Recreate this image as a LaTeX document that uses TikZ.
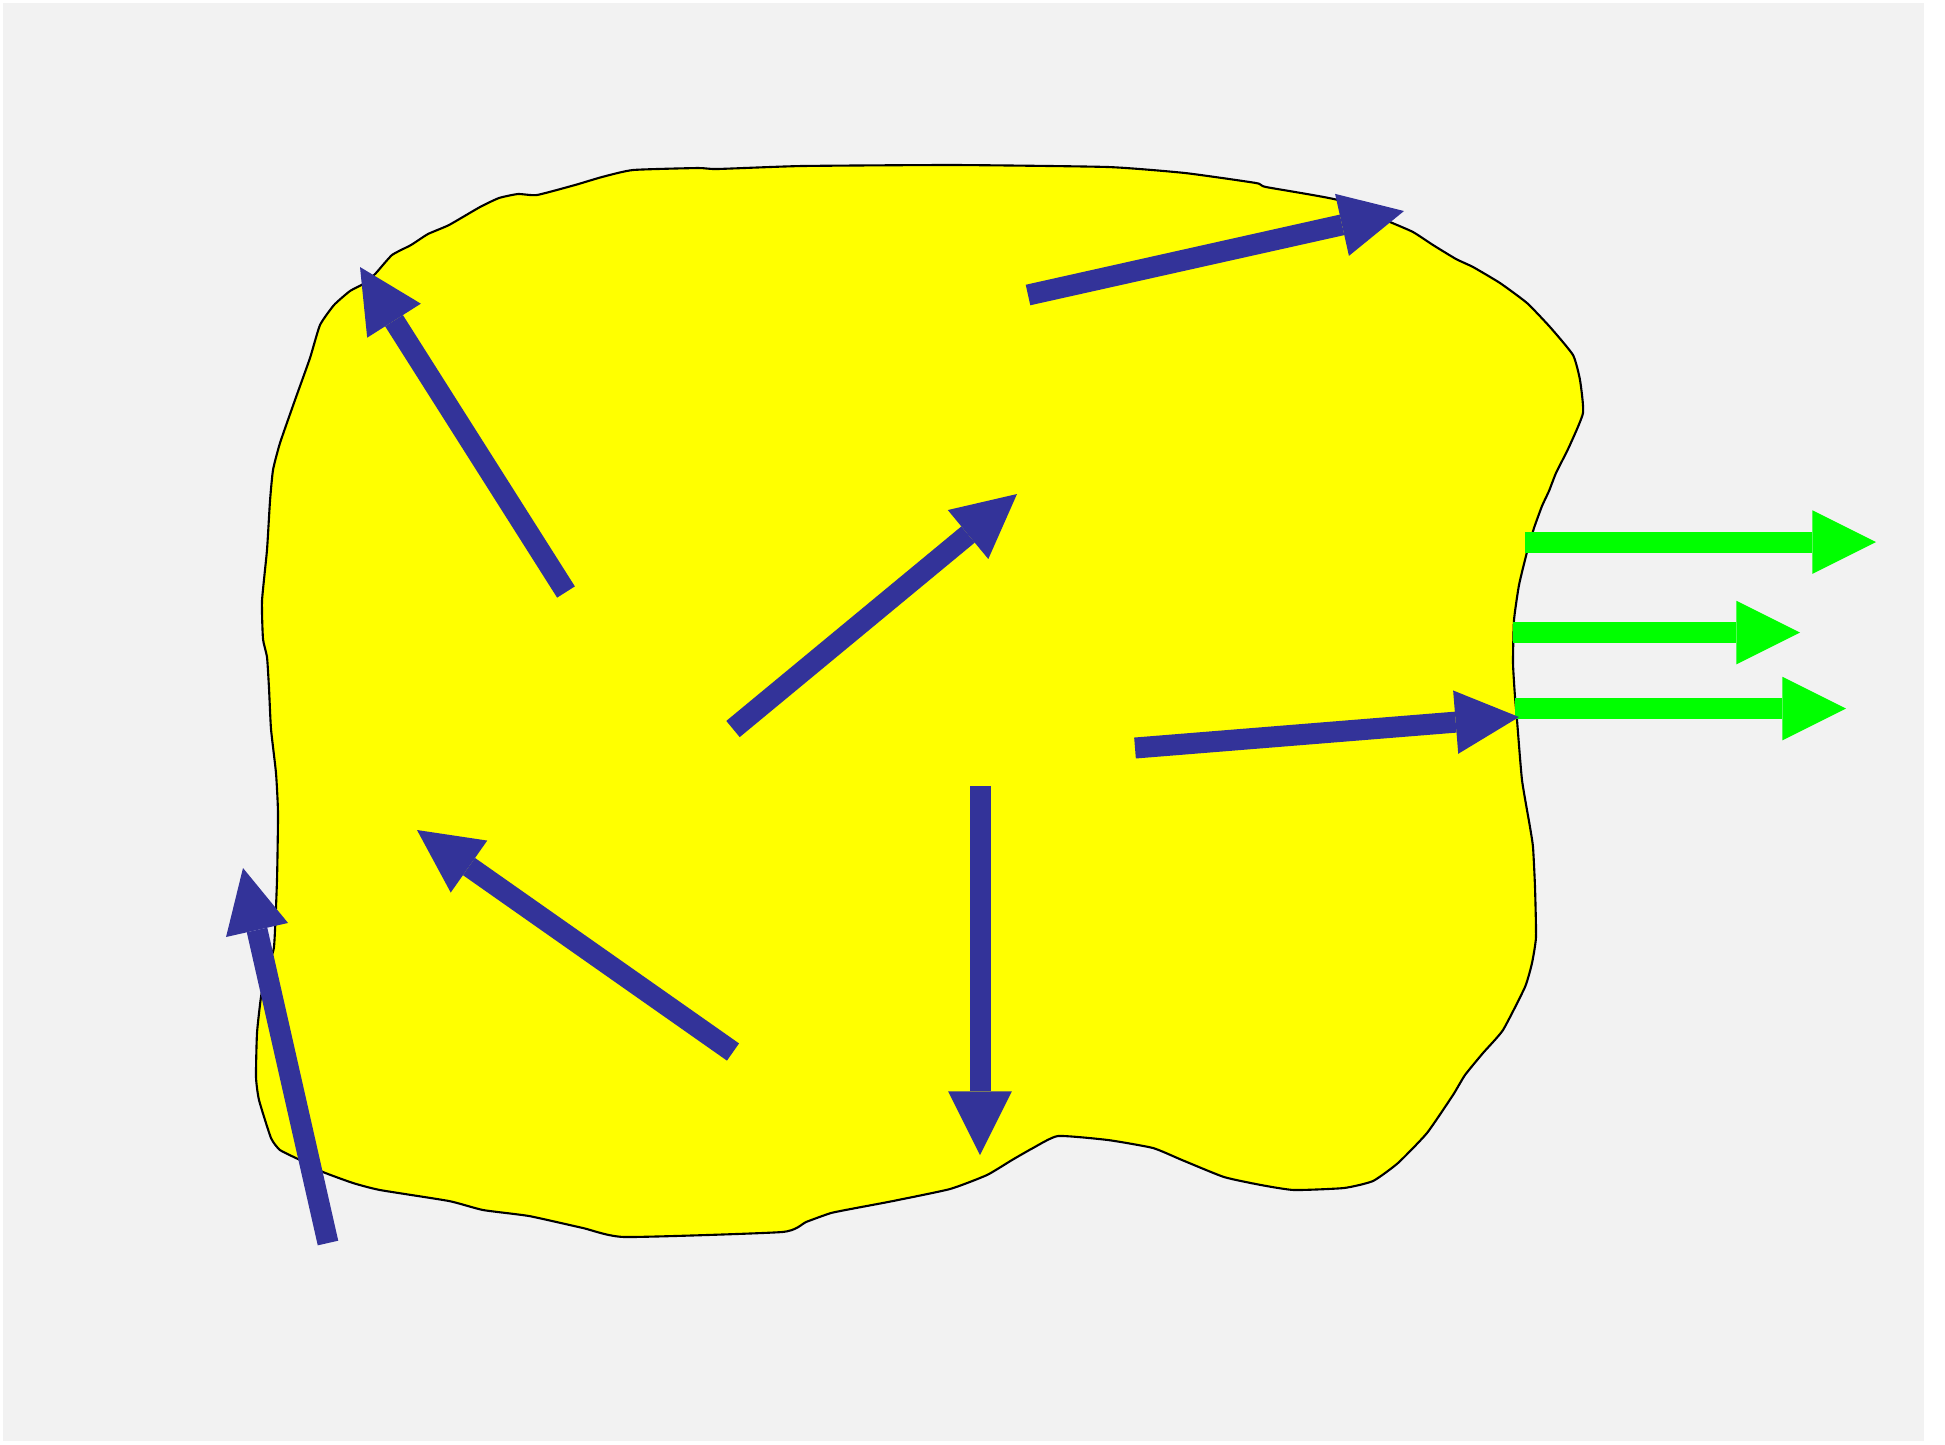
\documentclass[tikz,border=0pt]{standalone}
\usepackage{tikz}
\usepackage{xcolor}
\usetikzlibrary{arrows.meta}
\definecolor{canvas}{HTML}{F2F2F2}
\definecolor{blobfill}{HTML}{FFFF00}
\definecolor{vecblue}{HTML}{333399}
\definecolor{flowgreen}{HTML}{00FF00}

\begin{document}
\begin{tikzpicture}[
    x=0.01cm, y=-0.01cm,
    blob/.style={draw=black, line width=0.6pt, fill=blobfill},
    vecarrow/.style={line width=0.21cm, color=#1,
                     -{Triangle[length=6.35mm, width=6.35mm, line width=0pt]}},
    vecarrow/.default=vecblue
]

% Canvas
\useasboundingbox (0,0) rectangle (1945,1444);
\fill[canvas] (3,3) rectangle (1924,1441);

% Region
\draw[blob] plot[smooth cycle, tension=0.3] coordinates {
    (717,169) (802,166) (955,165) (1108,167) (1185,173) (1256,183) (1266,187)
    (1338,200) (1390,222) (1413,232) (1433,245) (1456,259) (1473,267)
    (1500,283) (1527,303) (1550,327) (1573,355) (1580,380) (1583,413)
    (1569,447) (1556,473) (1549,491) (1542,506) (1534,528) (1527,552)
    (1519,585) (1514,620) (1513,663) (1515,697) (1517,720) (1522,780)
    (1530,827) (1533,847) (1535,887) (1536,937) (1532,963) (1525,987) (1503,1030)
    (1483,1053) (1465,1075) (1453,1095) (1427,1133) (1398,1163) (1373,1181)
    (1344,1188) (1294,1190) (1261,1185) (1224,1177) (1182,1160) (1153,1148)
    (1108,1140) (1058,1136) (1033,1148) (1012,1160) (987,1175) (950,1189)
    (893,1201) (856,1208) (831,1213) (806,1222) (782,1232)
    (625,1237) (583,1228) (529,1216) (483,1210) (449,1201) (380,1190) (353,1183)
    (323,1172) (300,1160) (280,1150) (271,1138) (259,1100) (256,1077) (257,1033)
    (261,997) (267,967) (274,947) (277,880) (278,813) (276,773) (271,729)
    (269,688) (267,657) (263,639) (262,601) (267,550) (270,501) (273,470)
    (280,443) (295,400) (310,358) (320,325) (334,305) (350,291) (365,283)
    (376,273) (392,255) (411,245) (428,234) (449,225)
    (480,207) (499,198) (518,194) (537,195) (575,185) (602,177) (633,170) (698,168)
};

% Arrow ends
\coordinate (nwtail) at (566,592);   \coordinate (nwtip) at (360,267);
\coordinate (netail) at (1028,295);  \coordinate (netip) at (1404,211);
\coordinate (ctail) at (733,729);    \coordinate (ctip) at (1017,494);
\coordinate (etail) at (1135,748);   \coordinate (etip) at (1519,717);
\coordinate (swtail) at (733,1052);  \coordinate (swtip) at (417,830);
\coordinate (stail) at (980,786);    \coordinate (stip) at (980,1155);
\coordinate (wtail) at (328,1243);   \coordinate (wtip) at (243,868);

\coordinate (flow1a) at (1525,542);   \coordinate (flow1b) at (1876,542);
\coordinate (flow2a) at (1513,632.5); \coordinate (flow2b) at (1800,632.5);
\coordinate (flow3a) at (1515,708.5); \coordinate (flow3b) at (1846,708.5);

% Outflow
\draw[vecarrow=flowgreen] (flow1a) -- (flow1b);
\draw[vecarrow=flowgreen] (flow2a) -- (flow2b);
\draw[vecarrow=flowgreen] (flow3a) -- (flow3b);

% Vectors
\draw[vecarrow] (nwtail) -- (nwtip);
\draw[vecarrow] (netail) -- (netip);
\draw[vecarrow] (ctail) -- (ctip);
\draw[vecarrow] (etail) -- (etip);
\draw[vecarrow] (swtail) -- (swtip);
\draw[vecarrow] (stail) -- (stip);
\draw[vecarrow] (wtail) -- (wtip);

\end{tikzpicture}
\end{document}
